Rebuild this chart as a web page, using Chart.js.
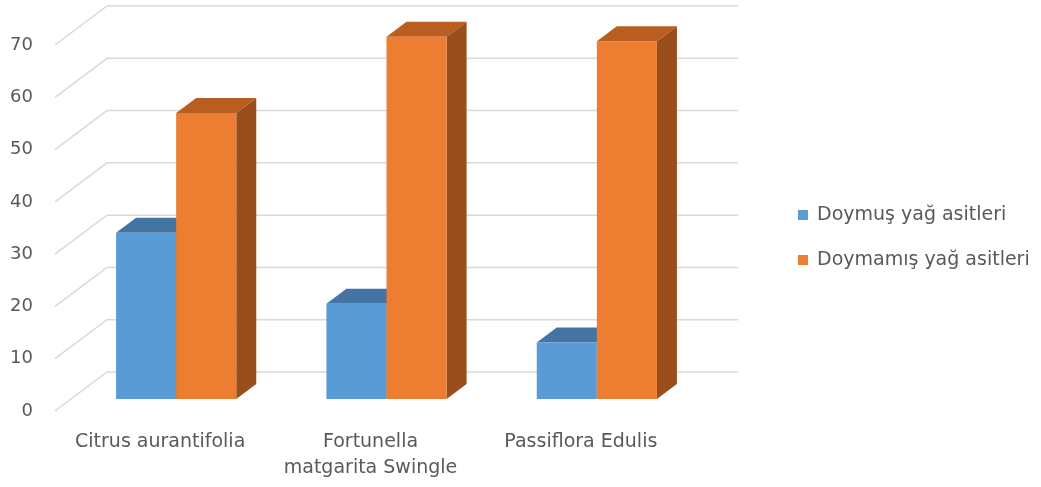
<!DOCTYPE html>
<html>
<head>
<meta charset="utf-8">
<script src="https://cdn.jsdelivr.net/npm/chart.js@4.4.1/dist/chart.umd.min.js"></script>
<style>
    html, body { margin: 0; padding: 0; background: #fff; }
    #wrap { width: 1041px; height: 487px; }
</style>
</head>
<body>
<div id="wrap"><canvas id="grafMastnych"></canvas></div>
<script>
// Data grafu
const kategorie = [['Citrus aurantifolia'], ['Fortunella', 'matgarita Swingle'], ['Passiflora Edulis']];
const nasycene = [31.8, 18.2, 10.8];
const nenasycene = [54.7, 69.3, 68.4];
const nazvySerii = ['Doymuş yağ asitleri', 'Doymamış yağ asitleri'];
const osaY = [0, 10, 20, 30, 40, 50, 60, 70];

// Barvy: čelo, vršek, bok
const barvy = [
    { celo: '#5b9bd5', vrsek: '#4474a3', bok: '#3b6590' },
    { celo: '#ed7d31', vrsek: '#b95d21', bok: '#9a4e1c' }
];

const hloubka = { dx: 52, dy: -39 };  // posun zadní stěny
const sloupec = { dx: 20, dy: -15 };  // hloubka sloupce
const posun = { dx: 16, dy: -12 };    // sloupce stojí uprostřed podlahy
const pismo = '"DejaVu Sans", sans-serif';

function plocha(ctx, body, barva) {
    ctx.fillStyle = barva;
    ctx.beginPath();
    ctx.moveTo(body[0][0], body[0][1]);
    for (let i = 1; i < body.length; i++) ctx.lineTo(body[i][0], body[i][1]);
    ctx.closePath();
    ctx.fill();
}

const sloupce3d = {
    id: 'sloupce3d',
    beforeDatasetsDraw(chart) {
        const ctx = chart.ctx;
        const y = chart.scales.y;
        const { left, right } = chart.chartArea;
        ctx.save();

        // Mřížka - šikmá podlaha a zadní stěna
        ctx.strokeStyle = '#d9d9d9';
        ctx.lineWidth = 1.5;
        osaY.forEach(v => {
            const py = y.getPixelForValue(v);
            ctx.beginPath();
            ctx.moveTo(left, py);
            ctx.lineTo(left + hloubka.dx, py + hloubka.dy);
            ctx.lineTo(right + hloubka.dx, py + hloubka.dy);
            ctx.stroke();
        });

        // Sloupce po kategoriích, aby se správně překrývaly
        for (let i = 0; i < kategorie.length; i++) {
            [0, 1].forEach(d => {
                const bar = chart.getDatasetMeta(d).data[i];
                const b = barvy[d];
                const x0 = bar.x - bar.width / 2 + posun.dx;
                const x1 = bar.x + bar.width / 2 + posun.dx;
                const yt = bar.y + posun.dy;
                const yb = bar.base + posun.dy;
                plocha(ctx, [[x0, yt], [x1, yt], [x1 + sloupec.dx, yt + sloupec.dy], [x0 + sloupec.dx, yt + sloupec.dy]], b.vrsek);
                plocha(ctx, [[x1, yt], [x1 + sloupec.dx, yt + sloupec.dy], [x1 + sloupec.dx, yb + sloupec.dy], [x1, yb]], b.bok);
                plocha(ctx, [[x0, yt], [x1, yt], [x1, yb], [x0, yb]], b.celo);
            });
        }
        ctx.restore();
        return false; // výchozí ploché sloupce nekreslit
    },
    afterDraw(chart) {
        // Legenda vpravo
        const ctx = chart.ctx;
        ctx.save();
        ctx.font = '19px ' + pismo;
        ctx.textAlign = 'left';
        ctx.textBaseline = 'middle';
        nazvySerii.forEach((nazev, d) => {
            const yy = 215 + d * 45;
            ctx.fillStyle = barvy[d].celo;
            ctx.fillRect(798, yy - 5, 10, 10);
            ctx.fillStyle = '#595959';
            ctx.fillText(nazev, 817, yy);
        });
        ctx.restore();
    }
};

new Chart(document.getElementById('grafMastnych'), {
    type: 'bar',
    data: {
        labels: kategorie,
        datasets: [
            { label: nazvySerii[0], data: nasycene, backgroundColor: barvy[0].celo },
            { label: nazvySerii[1], data: nenasycene, backgroundColor: barvy[1].celo }
        ]
    },
    options: {
        responsive: true,
        maintainAspectRatio: false,
        animation: false,
        categoryPercentage: 120 / 210,
        barPercentage: 1,
        layout: { padding: { left: 0, top: 45, right: 355, bottom: 0 } },
        plugins: {
            legend: { display: false },
            tooltip: { enabled: false }
        },
        scales: {
            x: {
                grid: { display: false },
                border: { display: false },
                ticks: {
                    color: '#595959',
                    font: { family: pismo, size: 19, lineHeight: 1.37 },
                    padding: 10,
                    maxRotation: 0
                },
                afterFit: s => { s.height = 76; }
            },
            y: {
                min: 0,
                max: 70,
                grid: { display: false },
                border: { display: false },
                afterBuildTicks: s => { s.ticks = osaY.map(v => ({ value: v })); },
                ticks: {
                    color: '#595959',
                    font: { family: pismo, size: 18 },
                    padding: 14
                },
                afterFit: s => { s.width = 55; }
            }
        }
    },
    plugins: [sloupce3d]
});
</script>
</body>
</html>
